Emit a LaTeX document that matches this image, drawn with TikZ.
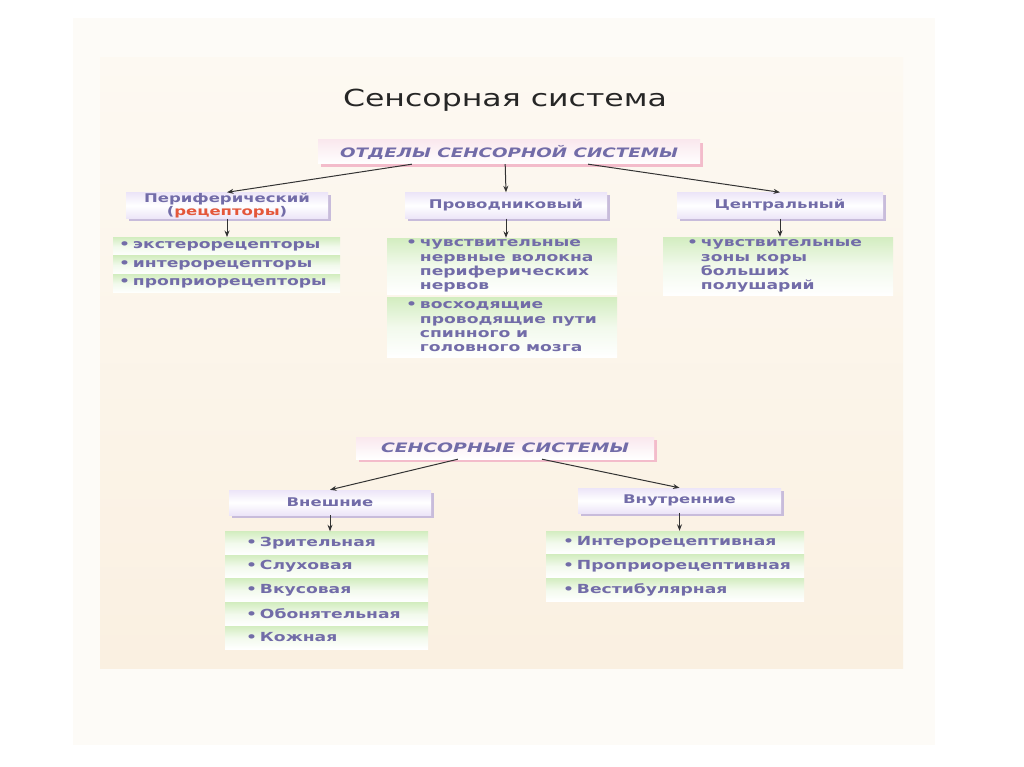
\documentclass[tikz,border=0pt]{standalone}
\usepackage{fontspec}
\usepackage{graphicx}
\usetikzlibrary{shadows,calc,arrows.meta}
\newfontfamily\titlef{DejaVu Sans}
\newfontfamily\itemf{DejaVu Sans Bold}
\newfontfamily\hdrf{DejaVu Sans Bold Oblique}
\newsavebox\fitbox
\newcommand\fitw[2]{\sbox\fitbox{#2}\pgfmathsetmacro\fitsx{#1/\the\wd\fitbox}\scalebox{\fitsx}[1]{\usebox\fitbox}}
\newcommand\ws[1]{\scalebox{\isx}[1]{#1}}
\newcommand\bul{•\hspace{2pt}}
\newcommand\ind{\hphantom{\bul}}
\definecolor{txt}{HTML}{726CA8}
\definecolor{arr}{HTML}{333333}
\definecolor{pinksh}{HTML}{F3BCCB}
\definecolor{pinkfill}{HTML}{FAE8EE}
\definecolor{lavsh}{HTML}{C8BCDB}
\definecolor{lav}{HTML}{ECE5F8}
\definecolor{grn}{HTML}{D3EDC0}
\definecolor{redt}{HTML}{E4573A}
\definecolor{outerbg}{HTML}{FDFBF7}
\definecolor{bgtop}{HTML}{FDF9F2}
\definecolor{bgbot}{HTML}{FAF0E1}
\tikzset{
  hdrbox/.style={inner sep=0pt, minimum height=24pt, top color=pinkfill, bottom color=white,
    drop shadow={shadow xshift=3pt, shadow yshift=-3pt, fill=pinksh, opacity=1},
    text=txt, font=\hdrf\fontsize{13}{15}\selectfont},
  lvlbox/.style={inner sep=0pt, minimum height=26pt, top color=lav, bottom color=lav, middle color=white,
    drop shadow={shadow xshift=3pt, shadow yshift=-3pt, fill=lavsh, opacity=1},
    text=txt, align=center, font=\itemf\fontsize{12}{12.5}\selectfont},
  listbar/.style={anchor=west, inner ysep=0pt, top color=grn, bottom color=white, middle color=white!70!grn,
    text=txt, align=left, font=\itemf\fontsize{12.5}{14.3}\selectfont},
  arrowline/.style={draw=arr, line width=1pt, -{Stealth[length=6.5pt,width=5pt]}},
}
\begin{document}%
\sbox\fitbox{\itemf\fontsize{12.5}{14}\selectfont Проприорецептивная}%
\pgfmathsetmacro\isx{214pt/\the\wd\fitbox}%
\begin{tikzpicture}[x=1pt,y=-1pt]
\useasboundingbox (0,0) rectangle (1024,767);
\fill[white] (0,0) rectangle (1024,767);
\fill[outerbg] (73,18) rectangle (935,745);
\shade[top color=bgtop, bottom color=bgbot] (100,58) rectangle (903,668);

\node[anchor=base, inner sep=0pt, font=\titlef\fontsize{23.5}{26}\selectfont, text=black!85] (title) at (505,106.5) {\fitw{324pt}{Сенсорная система}};

% top header
\node[hdrbox, minimum width=382pt] (h1) at (509,152) {\fitw{338pt}{ОТДЕЛЫ СЕНСОРНОЙ СИСТЕМЫ}};

\node[lvlbox, minimum width=202pt] (p1) at (227,205.5) {\ws{Периферический}\\\ws{(\textcolor{redt}{рецепторы})}};
\node[lvlbox, minimum width=202pt] (p2) at (506,205.5) {\ws{Проводниковый}};
\node[lvlbox, minimum width=206pt] (p3) at (780,205.5) {\ws{Центральный}};

% left list
\node[listbar, inner xsep=6pt, text width=215pt, minimum height=18.5pt] (l1) at (113,246.5) {\ws{\bul экстерорецепторы}};
\node[listbar, inner xsep=6pt, text width=215pt, minimum height=18.5pt] (l2) at (113,265) {\ws{\bul интерорецепторы}};
\node[listbar, inner xsep=6pt, text width=215pt, minimum height=18.5pt] (l3) at (113,283.5) {\ws{\bul проприорецепторы}};

% middle list
\node[listbar, inner xsep=19pt, text width=192pt, minimum height=56pt] (m1) at (387,266) {\ws{\bul чувствительные}\\\ws{\ind нервные волокна}\\\ws{\ind периферических}\\\ws{\ind нервов}};
\node[listbar, inner xsep=19pt, text width=192pt, minimum height=60pt] (m2) at (387,327) {\ws{\bul восходящие}\\\ws{\ind проводящие пути}\\\ws{\ind спинного и}\\\ws{\ind головного мозга}};

% right list
\node[listbar, inner xsep=24pt, text width=182pt, minimum height=58pt] (r1) at (663,266) {\ws{\bul чувствительные}\\\ws{\ind зоны коры}\\\ws{\ind больших}\\\ws{\ind полушарий}};

% lower header
\node[hdrbox, minimum width=298pt, minimum height=22pt] (h2) at (505,448) {\fitw{248pt}{СЕНСОРНЫЕ СИСТЕМЫ}};
\node[lvlbox, minimum width=202pt, minimum height=25pt] (q1) at (330,502.5) {\ws{Внешние}};
\node[lvlbox, minimum width=203pt, minimum height=25pt] (q2) at (679.5,500.5) {\ws{Внутренние}};

\node[listbar, inner xsep=21pt, text width=161pt, minimum height=23pt] (a1) at (225,543) {\ws{\bul Зрительная}};
\node[listbar, inner xsep=21pt, text width=161pt, minimum height=23pt] (a2) at (225,566.5) {\ws{\bul Слуховая}};
\node[listbar, inner xsep=21pt, text width=161pt, minimum height=23pt] (a3) at (225,590) {\ws{\bul Вкусовая}};
\node[listbar, inner xsep=21pt, text width=161pt, minimum height=23pt] (a4) at (225,614) {\ws{\bul Обонятельная}};
\node[listbar, inner xsep=21pt, text width=161pt, minimum height=23pt] (a5) at (225,637.5) {\ws{\bul Кожная}};

\node[listbar, inner xsep=17pt, text width=224pt, minimum height=23pt] (b1) at (546,542.5) {\ws{\bul Интерорецептивная}};
\node[listbar, inner xsep=17pt, text width=224pt, minimum height=23pt] (b2) at (546,566) {\ws{\bul Проприорецептивная}};
\node[listbar, inner xsep=17pt, text width=224pt, minimum height=23pt] (b3) at (546,589.5) {\ws{\bul Вестибулярная}};

% arrows
\draw[arrowline] ($(h1.south west)!0.246!(h1.south east)$) -- (p1.north);
\draw[arrowline] ($(h1.south west)!0.49!(h1.south east)$) -- (p2.north);
\draw[arrowline] ($(h1.south west)!0.707!(h1.south east)$) -- (p3.north);
\draw[arrowline] (p1.south) -- (l1.north -| p1.south);
\draw[arrowline] (p2.south) -- (m1.north -| p2.south);
\draw[arrowline] (p3.south) -- (r1.north -| p3.south);
\draw[arrowline] ($(h2.south west)!0.342!(h2.south east)$) -- (q1.north);
\draw[arrowline] ($(h2.south west)!0.624!(h2.south east)$) -- (q2.north);
\draw[arrowline] (q1.south) -- (a1.north -| q1.south);
\draw[arrowline] (q2.south) -- (b1.north -| q2.south);
\end{tikzpicture}%
\end{document}
